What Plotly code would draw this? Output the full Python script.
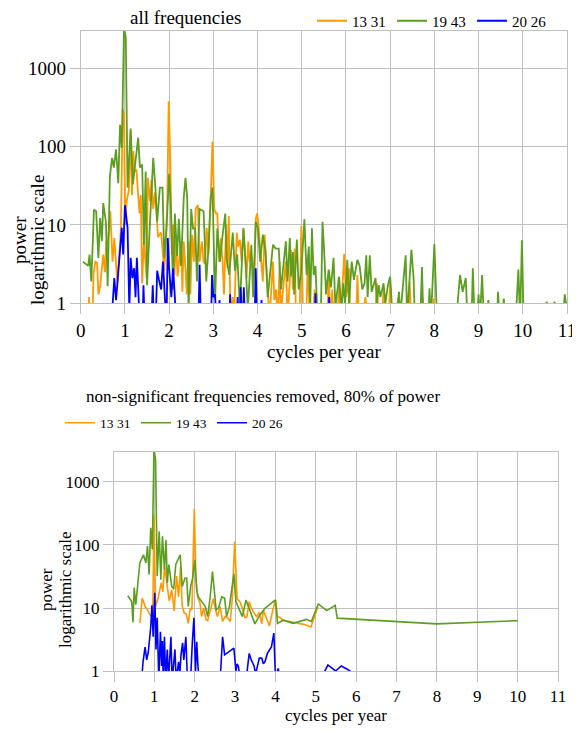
import plotly.graph_objects as go

# ---------------- data: all frequencies (top) ----------------
top_green_f = [0.05,0.13,0.17,0.20,0.24,0.30,0.35,0.40,0.44,0.48,0.51,0.57,0.61,0.66,0.71,0.75,0.80,0.85,0.89,0.93,0.98,1.02,1.06,1.13,1.18,1.30,1.34,1.39,1.43,1.47,1.50,1.56,1.64,1.69,1.73,1.79,1.85,1.89,1.94,2.00,2.04,2.09,2.13,2.18,2.22,2.27,2.33,2.37,2.41,2.44,2.50,2.54,2.59,2.63,2.69,2.78,2.84,2.89,2.94,2.98,3.04,3.09,3.15,3.21,3.27,3.30,3.36,3.44,3.49,3.54,3.60,3.68,3.73,3.78,3.86,3.90,3.96,4.01,4.06,4.12,4.18,4.23,4.28,4.35,4.41,4.48,4.53,4.57,4.64,4.68,4.73,4.76,4.80,4.83,4.89,4.93,4.99,5.06,5.11,5.16,5.19,5.23,5.27,5.31,5.36,5.43,5.47,5.51,5.55,5.61,5.66,5.72,5.76,5.82,5.84,5.90,5.94,5.98,6.03,6.07,6.13,6.18,6.26,6.31,6.34,6.37,6.42,6.46,6.49,6.54,6.58,6.63,6.67,6.70,6.74,6.78,6.85,6.89,6.95,7.00,7.04,7.11,7.17,7.20,7.23,7.35,7.38,7.40,7.48,7.53,7.56,7.68,7.72,7.75,7.86,7.89,7.92,8.00,8.06,8.48,8.58,8.64,8.71,8.75,8.84,8.87,8.91,8.98,9.00,9.03,9.08,9.12,9.20,9.22,9.25,9.42,9.44,9.47,9.55,9.57,9.60,9.84,9.90,9.94,9.98,10.02,10.50,10.54,10.58,10.70,10.72,10.75,10.92,10.95,11.00]
top_green_p = [3.4,3.1,3.0,4.2,1.9,15.7,15,3.8,12.3,6.2,19,11,1.65,42,72,54,92,34,190,96,3300,2500,30,170,33,130,54,59,5.6,48,1.7,9,72,30,11,30,30,3.8,9,45,17,1.5,14,4,12,3,22,40,22,0.8,16,9,9,1.9,16,15,1.9,5,22,30,1.1,9,3.4,7.5,14,3.8,2.3,8,2.6,4.2,0.9,9,3.4,0.8,5.6,1.2,11,9,3.4,7.5,4.6,1.2,2.5,5.6,5.0,5,1.5,2.5,6.2,1.9,6.8,2.2,4.5,1.3,6.5,1.5,2.5,11.8,2.3,5.3,0.8,9.1,2.3,3,0.6,0.6,11,4.3,1.3,2.7,1.6,3.8,0.9,1.7,2.2,0.8,1.8,1.0,3.6,1.0,3.4,2.0,3.6,3.0,2.0,1.5,1.8,4.1,1.2,4.1,1.4,1.8,2.1,1.0,1.7,1.2,1.8,1.0,1.7,2.2,0.9,0.9,1.0,1.4,0.7,4.1,0.8,0.9,4.8,2.1,0.6,0.6,2.9,0.6,0.6,1.55,0.6,5.7,0.6,0.5,2.3,1.4,2.1,0.6,0.6,2.8,0.6,0.9,1.3,0.6,2.3,0.6,0.7,1.1,0.7,0.7,1.4,0.7,0.8,1.15,0.7,0.6,2.7,0.6,6.4,0.6,0.8,1.05,0.8,0.8,1.05,0.8,0.8,1.3,0.8]

top_orange_f = [0.17,0.19,0.21,0.26,0.29,0.33,0.37,0.40,0.44,0.48,0.51,0.55,0.58,0.61,0.67,0.72,0.76,0.83,0.89,0.91,0.95,0.98,1.01,1.04,1.09,1.13,1.16,1.19,1.22,1.26,1.30,1.33,1.36,1.39,1.43,1.46,1.49,1.52,1.57,1.60,1.64,1.68,1.72,1.75,1.78,1.82,1.86,1.89,1.93,1.96,1.99,2.03,2.06,2.09,2.12,2.16,2.19,2.23,2.27,2.30,2.33,2.37,2.40,2.44,2.48,2.52,2.56,2.60,2.65,2.69,2.74,2.78,2.81,2.85,2.89,2.94,2.98,3.02,3.06,3.09,3.13,3.17,3.21,3.24,3.29,3.32,3.35,3.38,3.41,3.44,3.47,3.53,3.56,3.60,3.64,3.68,3.71,3.75,3.79,3.82,3.86,3.90,3.93,3.96,3.99,4.02,4.05,4.09,4.12,4.16,4.20,4.23,4.27,4.31,4.35,4.38,4.42,4.46,4.50,4.53,4.56,4.64,4.68,4.73,4.76,4.80,4.84,4.87,4.95,4.99,5.03,5.10,5.14,5.18,5.26,5.29,5.31,5.50,5.58,5.61,5.64,5.69,5.72,5.81,5.85,5.88,5.96,6.00,6.03,6.07,6.10,6.23,6.26,6.29,6.40,6.44,6.48,6.66,6.70,6.74,6.82,6.85,6.88,6.97,7.00,7.04,7.41,7.44,7.48,7.70,7.73,7.76,7.96,7.99,8.02]
top_orange_p = [0.5,1.2,0.5,0.5,2.3,3.4,3.3,1.3,1.65,2.8,4.2,2.5,6.2,5.5,15,3.4,6.8,1.8,5.1,9.2,300,260,10,20,28,158,24,88,48,51,24,14,24,1.8,6.5,3.8,2.1,40,20,38,16,26,13,7,7.5,8,4.2,2.6,6.2,22,380,53,4.2,10,2.3,6.5,2.2,4.2,6.2,1.4,6.2,2.8,1.3,6.2,1.3,7.5,3.4,16,18,3.4,6.2,3.4,3.2,9.2,4.2,22,115,16,14,14,3.4,6.8,3.4,1.3,10,2.8,13,1.3,0.6,1.2,0.6,8,5.3,6.5,3.4,9.2,4.5,2.1,6.2,3.4,4.2,2.8,2.3,12,14,10,6.2,3.4,1.9,7.5,2.8,1.3,0.6,1.5,3.4,1.1,1.5,0.6,3.4,0.6,1.2,3.4,0.6,2.0,4.8,1.5,5,0.6,0.6,9.7,0.6,0.6,3.9,0.6,0.6,1.5,0.6,0.8,0.6,2.6,0.6,1.5,0.6,0.6,2.1,0.6,4.3,1.2,1.5,2.8,0.6,0.6,2.3,0.6,0.8,1.2,0.7,0.6,1.8,0.6,0.6,1.6,0.6,0.6,1.8,0.6,0.6,1.9,0.6,0.6,1.2,0.6,0.6,1.15,0.6]

top_blue_f = [0.69,0.72,0.76,0.80,0.84,0.89,0.93,0.96,1.00,1.06,1.10,1.13,1.17,1.21,1.24,1.27,1.30,1.34,1.40,1.42,1.45,1.60,1.63,1.66,1.70,1.73,1.77,1.82,1.86,1.90,1.94,1.97,2.00,2.05,2.09,2.13,2.16,2.66,2.69,2.72,2.95,2.97,3.00,3.04,3.07,3.12,3.14,3.16,3.36,3.38,3.40,3.52,3.55,3.57,3.60,3.62,3.65,3.67,3.69,3.72,3.93,3.96,3.99,4.07,4.09,4.11,5.29,5.31,5.33,5.60,5.62,5.64]
top_blue_p = [0.5,1.0,2.1,1.1,2.1,5.1,9.2,4.2,17.9,9.2,0.8,3.8,2.1,2.8,1.2,3.8,1.7,0.5,0.6,1.7,0.5,0.6,1.7,0.5,0.7,2.6,2.0,1.5,3.4,1.7,0.5,6.8,2.8,1.2,2.8,1.2,0.5,0.5,3.1,0.5,0.6,2.3,1.2,1.3,0.5,0.6,1.1,0.5,0.5,1.3,0.5,0.5,1.2,0.5,0.6,1.6,0.5,0.6,1.6,0.5,0.5,2.8,0.5,0.6,1.1,0.5,0.5,1.34,0.5,0.5,1.2,0.5]

# ---------------- data: significant frequencies only (bottom) ----------------
sig_green_f = [0.34,0.44,0.47,0.50,0.54,0.64,0.73,0.79,0.83,0.87,0.91,0.95,0.99,1.03,1.07,1.12,1.16,1.20,1.25,1.29,1.32,1.36,1.43,1.48,1.53,1.64,1.69,1.76,1.80,1.84,1.90,1.95,2.00,2.05,2.09,2.17,2.26,2.32,2.38,2.44,2.49,2.53,2.59,2.67,2.74,2.79,2.86,2.97,3.02,3.10,3.18,3.27,3.32,3.41,3.49,3.61,3.74,4.00,4.05,4.19,4.44,4.77,4.89,5.06,5.27,5.48,5.53,8.00,10.00]
sig_green_p = [15.6,12.7,5.9,21,11.3,52,70,52,96,34,188,85,3300,2300,32,165,28,138,41,120,25,49,22,20,49,70,22,30,30,10.6,22,30,58,19,15,12.7,10.6,7.3,14.4,38,17,9.4,10,15,14.4,7.3,10.6,35,12.6,9.3,7.3,13.4,11,8,5.6,7.7,9.9,13.4,5.7,6.4,5.7,6.6,6.1,11.6,9.1,11,6.9,5.6,6.3]

sig_orange_f = [0.64,0.70,0.77,0.83,0.88,0.93,0.96,0.99,1.03,1.10,1.17,1.21,1.25,1.31,1.37,1.43,1.49,1.55,1.60,1.65,1.69,1.74,1.79,1.84,1.89,1.93,1.99,2.03,2.07,2.13,2.17,2.22,2.28,2.32,2.38,2.46,2.51,2.56,2.63,2.69,2.75,2.81,2.88,2.93,2.99,3.05,3.12,3.18,3.24,3.29,3.35,3.40,3.45,3.53,3.60,3.66,3.70,3.77,3.85,3.93,4.00,4.05,4.11,4.19,4.44,4.70,4.88,5.05]
sig_orange_p = [5.8,14.4,10.6,9.4,8,7.3,6.5,305,10.6,15,25,18,46,25,13,19.5,9,32,15,46,10.6,8.3,8,5.7,10,9.4,375,30,15,12,7.3,10,6.5,6.3,9,14,10,7.3,10.6,6.1,7.3,7,6.1,14,113,14,12.6,9.9,7.1,7.1,12.6,10,8.8,7.3,8.5,5.6,9.3,7.3,5.2,9,13.4,7.3,7.1,6.4,5.9,5.5,5.0,10.5]

sig_blue_f = [0.69,0.72,0.77,0.81,0.85,0.88,0.91,0.94,0.97,1.01,1.04,1.07,1.11,1.15,1.18,1.20,1.22,1.25,1.28,1.32,1.35,1.41,1.44,1.51,1.54,1.60,1.63,1.66,1.70,1.73,1.78,1.82,1.90,1.94,1.98,2.02,2.05,2.08,2.11,2.63,2.69,2.74,2.97,3.02,3.05,3.08,3.12,3.28,3.35,3.40,3.47,3.51,3.60,3.66,3.70,3.74,3.80,3.90,3.96,4.00,4.07,4.10,5.15,5.30,5.49,5.63,5.80,5.94]
sig_blue_p = [0.8,1.4,2.4,1.5,2.0,3.1,5.0,11,3.5,17.4,2.2,7,0.7,4.2,1.2,3.0,0.7,3.5,0.7,2.2,0.7,3.5,0.7,2.2,0.7,1.4,0.9,1.8,2.8,1.5,3.5,0.7,0.8,2.8,7.0,1.0,2.9,1.2,0.7,0.7,3.5,1.8,2.3,1.0,1.3,1.2,0.8,0.8,1.9,1.5,1.2,0.9,1.6,1.6,1.3,1.4,1.9,2.4,4.0,0.8,1.1,0.8,0.8,1.25,1.0,1.2,1.05,0.9]

series_names = ["13 31", "19 43", "20 26"]
colors = ["#FF9900", "#5B9E20", "#0000FF"]
x_ticks = list(range(0, 12))
y_tickvals = [1, 10, 100, 1000]
y_ticktext = ["1", "10", "100", "1000"]

FONT = "Liberation Serif"
GRID = "#BFBFBF"
BLACK = "#000000"

def fnt(size):
    return dict(family=FONT, size=size, color=BLACK)

fig = go.Figure()
top_sets = [(top_orange_f, top_orange_p), (top_green_f, top_green_p), (top_blue_f, top_blue_p)]
bot_sets = [(sig_orange_f, sig_orange_p), (sig_green_f, sig_green_p), (sig_blue_f, sig_blue_p)]
for (f, p), name, c in zip(top_sets, series_names, colors):
    fig.add_trace(go.Scatter(x=f, y=p, mode="lines", name=name, line=dict(color=c, width=1.8),
                             xaxis="x", yaxis="y", legend="legend"))
for (f, p), name, c in zip(bot_sets, series_names, colors):
    fig.add_trace(go.Scatter(x=f, y=p, mode="lines", name=name, line=dict(color=c, width=1.6),
                             xaxis="x2", yaxis="y2", legend="legend2"))

# the page adds an 8px body margin, so the figure is laid out in page pixels minus 8
OFF = 8
W, H = 580 - OFF, 731 - OFF
def px(x):
    return (x - OFF) / W
def py(y):
    return 1 - (y - OFF) / H
def xd(a, b):
    return [px(a), px(b)]
def yd(top, bottom):
    return [py(bottom), py(top)]

def xaxis_style(size):
    return dict(range=[0, 11], tickvals=x_ticks, showgrid=True, gridcolor=GRID, gridwidth=1,
                showline=True, mirror=True, linecolor=GRID, linewidth=1, ticks="outside",
                ticklen=10, tickcolor=GRID, zeroline=False, automargin=False,
                ticklabeloverflow="allow",
                tickfont=fnt(size), title=dict(text="cycles per year", font=fnt(size), standoff=0))

def yaxis_style(size):
    return dict(type="log", range=[0, 3.476], tickvals=y_tickvals, ticktext=y_ticktext,
                showgrid=True, gridcolor=GRID, gridwidth=1, showline=True, mirror=True,
                linecolor=GRID, linewidth=1, ticks="outside", ticklen=10, tickcolor=GRID,
                zeroline=False, automargin=False, tickfont=fnt(size))

def vtext(text, x, y, size):
    return dict(text=text, textangle=-90, x=px(x), y=py(y), xref="paper", yref="paper",
                xanchor="center", yanchor="middle", showarrow=False, font=fnt(size))

fig.update_layout(
    width=W, height=H, margin=dict(l=0, r=0, t=0, b=0, autoexpand=False),
    paper_bgcolor="white", plot_bgcolor="white",
    xaxis=dict(domain=xd(80.7, 567), anchor="y", **xaxis_style(19)),
    yaxis=dict(domain=yd(31, 303.3), anchor="x", **yaxis_style(19)),
    xaxis2=dict(domain=xd(114, 558), anchor="y2", **xaxis_style(17)),
    yaxis2=dict(domain=yd(452, 671), anchor="x2", **yaxis_style(17)),
    legend=dict(orientation="h", x=px(312), y=py(21), xanchor="left", yanchor="middle",
                entrywidth=35, entrywidthmode="pixels",
                font=fnt(15), bgcolor="rgba(0,0,0,0)"),
    legend2=dict(orientation="h", x=px(60), y=py(423), xanchor="left", yanchor="middle",
                 entrywidth=31, entrywidthmode="pixels",
                 font=fnt(13.5), bgcolor="rgba(0,0,0,0)"),
    annotations=[
        dict(text="all frequencies", x=px(128), y=py(18), xref="paper", yref="paper",
             xanchor="left", yanchor="middle", showarrow=False, font=fnt(19)),
        dict(text="non-significant frequencies removed, 80% of power", x=px(263), y=py(396),
             xref="paper", yref="paper", xanchor="center", yanchor="middle", showarrow=False,
             font=fnt(17)),
        vtext("power", 20, 240, 19),
        vtext("logarithmic scale", 38, 240, 19),
        vtext("power", 46, 590, 17),
        vtext("logarithmic scale", 65, 590, 17),
    ],
)

fig.write_html("out.html")
